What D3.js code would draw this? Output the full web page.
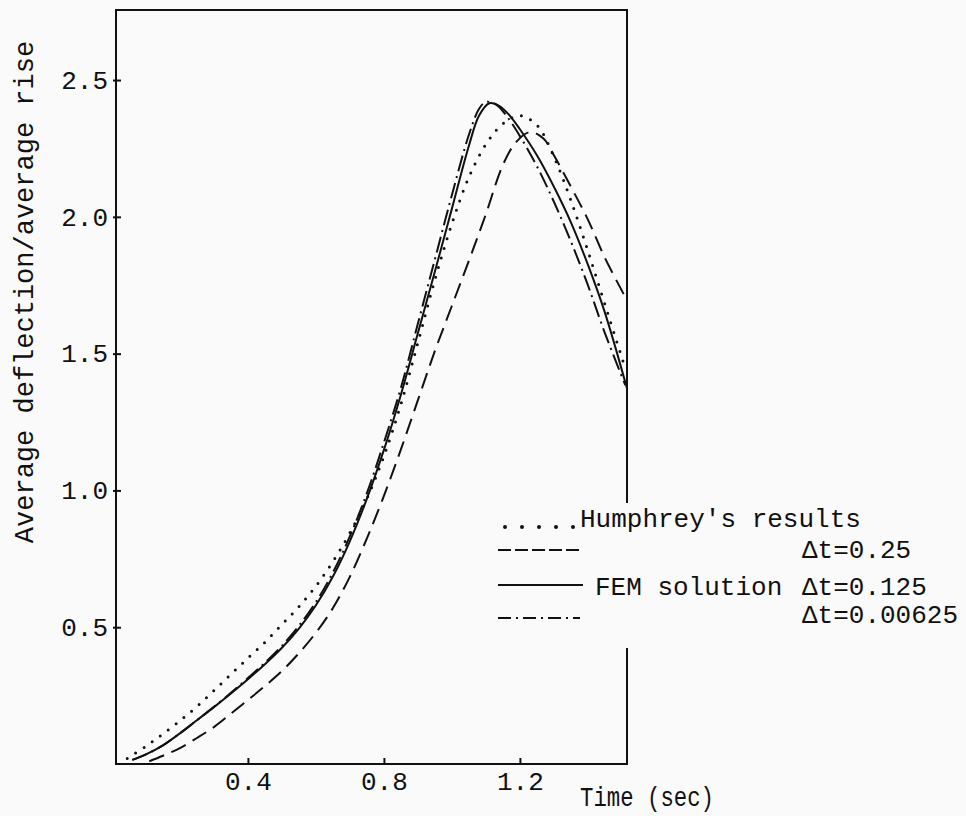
<!DOCTYPE html>
<html lang="en">
<head>
<meta charset="utf-8">
<title>Average deflection / average rise</title>
<script src="https://cdn.jsdelivr.net/npm/d3@7/dist/d3.min.js"></script>
<style>
	body { margin:0; background:#fafafa; }
	text { font-family:"Liberation Mono", "DejaVu Sans Mono", monospace; fill:#111; }
</style>
</head>
<body>
<script>

//Size of the page
var w = 966;
var h = 816;

//Curves: [time (sec), average deflection / average rise]
var humphrey = [[0.045,0.02],[0.10,0.065],[0.15,0.11],[0.20,0.158],[0.25,0.21],[0.30,0.268],[0.35,0.328],
	[0.40,0.387],[0.45,0.445],[0.50,0.51],[0.55,0.575],[0.60,0.65],[0.65,0.74],[0.70,0.845],[0.75,0.97],
	[0.80,1.125],[0.85,1.315],[0.90,1.54],[0.95,1.77],[1.00,1.975],[1.05,2.145],[1.10,2.265],[1.15,2.34],
	[1.20,2.37],[1.25,2.335],[1.30,2.22],[1.35,2.06],[1.40,1.875],[1.45,1.68],[1.505,1.465]];

var fem025 = [[0.11,0.01],[0.15,0.03],[0.20,0.058],[0.25,0.095],[0.30,0.135],[0.35,0.184],[0.40,0.234],
	[0.45,0.285],[0.50,0.34],[0.55,0.405],[0.60,0.48],[0.65,0.57],[0.70,0.685],[0.75,0.825],[0.80,0.98],
	[0.85,1.15],[0.90,1.33],[0.95,1.51],[1.00,1.675],[1.05,1.84],[1.10,2.01],[1.15,2.19],[1.19,2.275],
	[1.23,2.31],[1.27,2.285],[1.30,2.225],[1.35,2.11],[1.40,1.99],[1.45,1.85],[1.515,1.695]];

var fem0125 = [[0.06,0.015],[0.10,0.035],[0.15,0.068],[0.20,0.112],[0.25,0.16],[0.30,0.208],[0.35,0.258],
	[0.40,0.31],[0.45,0.365],[0.50,0.425],[0.55,0.495],[0.60,0.58],[0.65,0.685],[0.70,0.815],[0.75,0.97],
	[0.80,1.148],[0.85,1.35],[0.90,1.575],[0.95,1.80],[1.00,2.03],[1.05,2.26],[1.08,2.37],[1.11,2.415],
	[1.14,2.405],[1.17,2.37],[1.20,2.32],[1.25,2.225],[1.30,2.11],[1.35,1.98],[1.40,1.825],[1.45,1.65],
	[1.515,1.373]];

var fem000625 = [[0.06,0.015],[0.10,0.035],[0.15,0.068],[0.20,0.112],[0.25,0.16],[0.30,0.209],[0.35,0.26],
	[0.40,0.314],[0.45,0.37],[0.50,0.432],[0.55,0.505],[0.60,0.592],[0.65,0.70],[0.70,0.833],[0.75,0.99],
	[0.80,1.175],[0.85,1.375],[0.90,1.61],[0.95,1.845],[1.00,2.08],[1.05,2.30],[1.08,2.395],[1.10,2.42],
	[1.13,2.41],[1.16,2.37],[1.20,2.295],[1.25,2.185],[1.30,2.055],[1.35,1.91],[1.40,1.75],[1.45,1.575],
	[1.51,1.385]];

//Ticks and texts
var xTicks = [0.4, 0.8, 1.2];
var yTicks = [0.5, 1.0, 1.5, 2.0, 2.5];
var legendNames = ["Humphrey's results", "", "FEM solution", ""];
var legendSteps = ["", "\u0394t=0.25", "\u0394t=0.125", "\u0394t=0.00625"];

//Line styles, same order as the legend
var dashes = ["0,10", "16,8", null, "16,5,2,5"];
var legendDashes = ["0,17", "13,4", null, "13,5,2,5"];
var widths = [3, 2, 2, 2];
var caps = ["round", "butt", "butt", "butt"];

var series = [humphrey, fem025, fem0125, fem000625];

//Plot box
var plotLeft = 116, plotRight = 627, plotTop = 10, plotBottom = 764;

var xScale = d3.scaleLinear()
	.domain([0.012, 1.515])
	.range([plotLeft, plotRight]);

var yScale = d3.scaleLinear()
	.domain([0, 2.756])
	.range([plotBottom, plotTop]);

var svg = d3.select("body")
	.append("svg")
	.attr("width", w)
	.attr("height", h);

svg.append("rect")
	.attr("width", w)
	.attr("height", h)
	.attr("fill", "#fafafa");

svg.append("clipPath")
	.attr("id", "plot")
	.append("rect")
	.attr("x", plotLeft)
	.attr("y", plotTop)
	.attr("width", plotRight - plotLeft)
	.attr("height", plotBottom - plotTop);

//Curves
var line = d3.line()
	.x(function(d) { return xScale(d[0]); })
	.y(function(d) { return yScale(d[1]); })
	.curve(d3.curveCatmullRom.alpha(0.5));

svg.append("g")
	.attr("clip-path", "url(#plot)")
	.selectAll("path")
	.data(series)
	.enter()
	.append("path")
	.attr("d", line)
	.attr("fill", "none")
	.attr("stroke", "#111")
	.attr("stroke-width", function(d, i) { return widths[i]; })
	.attr("stroke-linecap", function(d, i) { return caps[i]; })
	.attr("stroke-dasharray", function(d, i) { return dashes[i]; });

//Axes
var xAxis = d3.axisBottom(xScale)
	.tickValues(xTicks)
	.tickSize(-6)
	.tickPadding(8)
	.tickFormat(d3.format(".1f"));

var yAxis = d3.axisLeft(yScale)
	.tickValues(yTicks)
	.tickSize(-5)
	.tickPadding(8)
	.tickFormat(d3.format(".1f"));

var gx = svg.append("g")
	.attr("transform", "translate(0," + plotBottom + ")")
	.call(xAxis);

var gy = svg.append("g")
	.attr("transform", "translate(" + plotLeft + ",0)")
	.call(yAxis);

[gx, gy].forEach(function(g) {
	g.select(".domain").remove();
	g.selectAll("line").attr("stroke", "#111").attr("stroke-width", 2);
	g.selectAll("text")
		.attr("font-family", "Liberation Mono, DejaVu Sans Mono, monospace")
		.attr("font-size", 26)
		.attr("fill", "#111");
});
gy.selectAll(".tick line").attr("x1", -3).attr("x2", 5);

//Frame, the right side broken where the legend runs over it
var frame = d3.path();
frame.moveTo(plotRight, 503);
frame.lineTo(plotRight, plotTop);
frame.lineTo(plotLeft, plotTop);
frame.lineTo(plotLeft, plotBottom);
frame.lineTo(plotRight, plotBottom);
frame.lineTo(plotRight, 648);

svg.append("path")
	.attr("d", frame.toString())
	.attr("fill", "none")
	.attr("stroke", "#111")
	.attr("stroke-width", 2);

//Axis titles
svg.append("text")
	.attr("transform", "translate(33,292) rotate(-90)")
	.attr("text-anchor", "middle")
	.attr("font-size", 27)
	.text("Average deflection/average rise");

svg.append("text")
	.attr("x", 580)
	.attr("y", 806)
	.attr("font-size", 27)
	.attr("textLength", 134)
	.attr("lengthAdjust", "spacingAndGlyphs")
	.text("Time (sec)");

//Legend
var legendLineY = [527, 550, 585, 618];
var legendTextY = [527, 558, 595, 623];

var legend = svg.append("g");

legend.selectAll("line")
	.data(legendNames)
	.enter()
	.append("line")
	.attr("x1", function(d, i) { return i == 0 ? 505 : 498; })
	.attr("x2", function(d, i) { return i == 0 ? 575 : (i == 2 ? 583 : 580); })
	.attr("y1", function(d, i) { return legendLineY[i]; })
	.attr("y2", function(d, i) { return legendLineY[i]; })
	.attr("stroke", "#111")
	.attr("stroke-width", function(d, i) { return i == 0 ? 4 : 2; })
	.attr("stroke-linecap", function(d, i) { return caps[i]; })
	.attr("stroke-dasharray", function(d, i) { return legendDashes[i]; });

legend.selectAll("text.name")
	.data(legendNames)
	.enter()
	.append("text")
	.attr("class", "name")
	.attr("x", function(d, i) { return i == 0 ? 580 : 595; })
	.attr("y", function(d, i) { return legendTextY[i]; })
	.attr("font-size", 26)
	.text(function(d) { return d; });

legend.selectAll("text.step")
	.data(legendSteps)
	.enter()
	.append("text")
	.attr("class", "step")
	.attr("x", 802)
	.attr("y", function(d, i) { return legendTextY[i]; })
	.attr("font-size", 26)
	.text(function(d) { return d; });

</script>
</body>
</html>
